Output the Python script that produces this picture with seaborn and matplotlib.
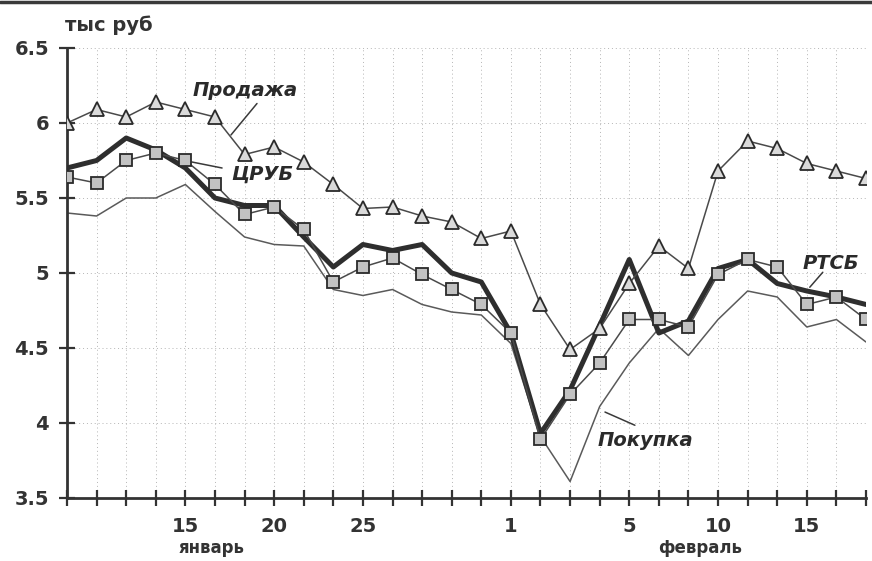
import matplotlib
matplotlib.use("Agg")
import matplotlib.pyplot as plt
from matplotlib.lines import Line2D
import matplotlib.transforms as mtransforms
import numpy as np
import pandas as pd
import seaborn as sns

# ---- data ----
positions = list(range(28))
tick_labels = ['', '', '', '', '15', '', '', '20', '', '', '25', '', '', '', '',
               '1', '', '', '', '5', '', '', '10', '', '', '15', '', '']
months = ['январь', 'февраль']
month_pos = [4.9, 21.4]

prodazha = [6.00, 6.09, 6.04, 6.14, 6.09, 6.04, 5.79, 5.84, 5.74, 5.59, 5.43, 5.44,
            5.38, 5.34, 5.23, 5.28, 4.79, 4.49, 4.63, 4.93, 5.18, 5.03, 5.68, 5.88,
            5.83, 5.73, 5.68, 5.63]
crub = [5.64, 5.60, 5.75, 5.80, 5.75, 5.59, 5.39, 5.44, 5.29, 4.94, 5.04, 5.10,
        4.99, 4.89, 4.79, 4.60, 3.89, 4.19, 4.40, 4.69, 4.69, 4.64, 4.99, 5.09,
        5.04, 4.79, 4.84, 4.69]
rtsb = [5.70, 5.75, 5.90, 5.82, 5.70, 5.50, 5.45, 5.45, 5.24, 5.04, 5.19, 5.15,
        5.19, 5.00, 4.94, 4.60, 3.93, 4.22, 4.65, 5.09, 4.60, 4.68, 5.03, 5.09,
        4.93, 4.88, 4.84, 4.79]
pokupka = [5.40, 5.38, 5.50, 5.50, 5.59, 5.41, 5.24, 5.19, 5.18, 4.89, 4.85, 4.89,
           4.79, 4.74, 4.72, 4.53, 3.91, 3.61, 4.11, 4.40, 4.63, 4.45, 4.69, 4.88,
           4.84, 4.64, 4.69, 4.54]
y_ticks = [3.5, 4, 4.5, 5, 5.5, 6, 6.5]
y_ticklabels = ['3.5', '4', '4.5', '5', '5.5', '6', '6.5']
y_unit = 'тыс руб'
series_names = ['Продажа', 'ЦРУБ', 'РТСБ', 'Покупка']

sns.set_theme(style='white')
plt.rcParams['font.family'] = ['DejaVu Sans']

fig = plt.figure(figsize=(8.72, 5.61), dpi=100)
ax = fig.add_axes([67/872, 1-498/561, (866-67)/872, (498-48)/561])

# draw series
sns.lineplot(x=positions, y=pokupka, ax=ax, color='#5a5a5a', lw=1.1, zorder=2)
sns.lineplot(x=positions, y=rtsb, ax=ax, color='#2e2e2e', lw=3.6, zorder=3,
             solid_joinstyle='round')
sns.lineplot(x=positions, y=prodazha, ax=ax, color='#4a4a4a', lw=1.1, zorder=4,
             marker='^', markersize=9.5, markerfacecolor='#dadada',
             markeredgecolor='#2a2a2a', markeredgewidth=1.3)
sns.lineplot(x=positions, y=crub, ax=ax, color='#4a4a4a', lw=1.1, zorder=5,
             marker='s', markersize=8.5, markerfacecolor='#c2c2c2',
             markeredgecolor='#2a2a2a', markeredgewidth=1.3)

ax.set_xlim(0, 27)
ax.set_ylim(3.5, 6.5)
ax.set_xticks(positions)
ax.set_xticklabels(tick_labels, fontsize=14, fontweight='bold', color='#333333')
ax.set_yticks(y_ticks)
ax.set_yticklabels(y_ticklabels, fontsize=14, fontweight='bold', color='#333333')
ax.tick_params(axis='both', which='major', bottom=True, left=True,
               direction='inout', length=12, width=1.6, color='#333333')
ax.tick_params(axis='x', pad=8)
ax.tick_params(axis='y', pad=7)

ax.grid(True, color='#b5b5b5', lw=0.7, linestyle=(0, (1, 3)))
for s in ['top', 'right']:
    ax.spines[s].set_visible(False)
for s in ['left', 'bottom']:
    ax.spines[s].set_color('#333333')
    ax.spines[s].set_linewidth(2.0)

# month labels
trans = mtransforms.blended_transform_factory(ax.transData, ax.transAxes)
for m, p in zip(months, month_pos):
    ax.text(p, -0.112, m, transform=trans, ha='center', va='center',
            fontsize=12, fontweight='bold', color='#333333')

fig.text(65/872, 1-25/561, y_unit, ha='left', va='center', fontsize=14,
         fontweight='bold', color='#333333')

# series annotations with leader lines
ann_kw = dict(fontsize=14, fontweight='bold', fontstyle='italic', color='#2a2a2a',
              ha='center', va='center')
line_kw = dict(arrowstyle='-', color='#3a3a3a', lw=1.1, shrinkA=0, shrinkB=0)
ax.text(6.01, 6.215, series_names[0], **ann_kw)
ax.annotate('', xy=(5.54, 5.92), xytext=(6.42, 6.13), arrowprops=line_kw)
ax.text(6.60, 5.655, series_names[1], **ann_kw)
ax.annotate('', xy=(4.22, 5.74), xytext=(5.24, 5.70), arrowprops=line_kw)
ax.text(25.81, 5.063, series_names[2], **ann_kw)
ax.annotate('', xy=(25.10, 4.905), xytext=(25.54, 5.005), arrowprops=line_kw)
ax.text(19.56, 3.883, series_names[3], **ann_kw)
ax.annotate('', xy=(18.18, 4.073), xytext=(19.19, 3.985), arrowprops=line_kw)

# scanned-page border line at top
fig.add_artist(Line2D([0, 1], [0.997, 0.997], transform=fig.transFigure,
                      color='#3a3a3a', lw=2.5))

fig.savefig('out.png', dpi=100)
